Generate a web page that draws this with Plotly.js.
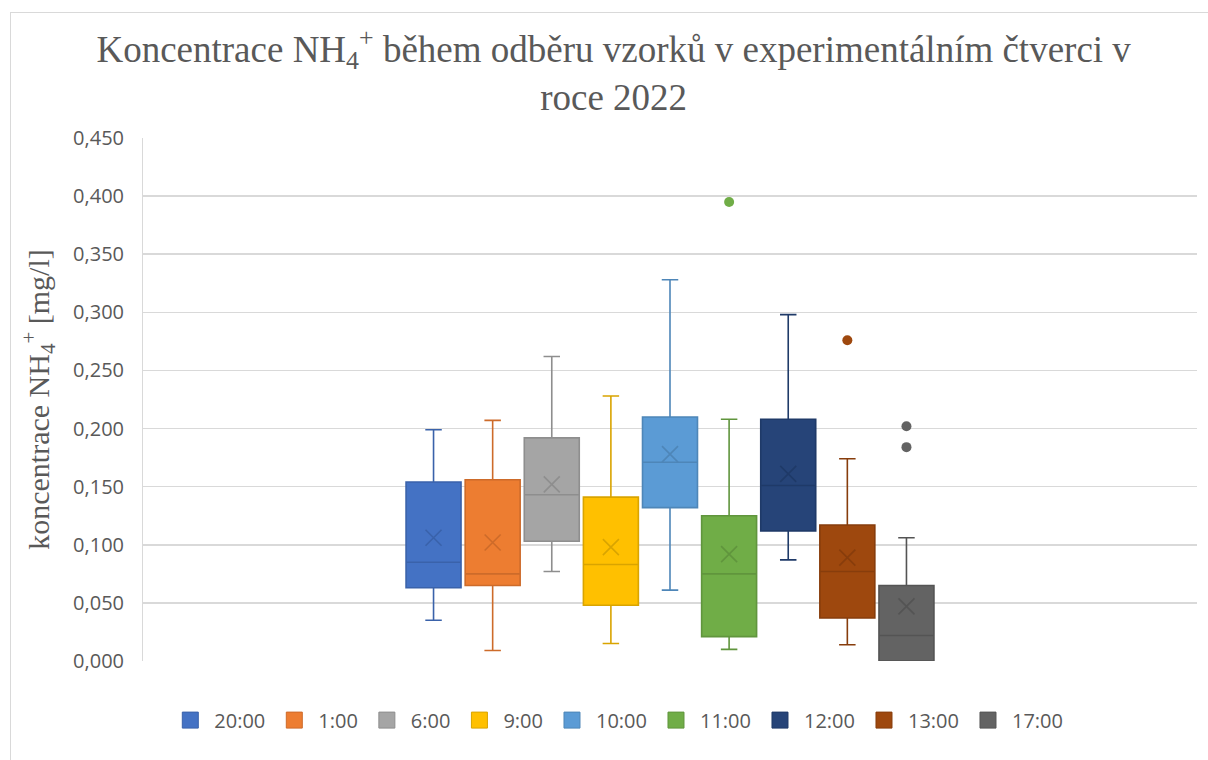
<!DOCTYPE html>
<html>
<head>
<meta charset="utf-8">
<script src="https://cdn.plot.ly/plotly-3.0.1.min.js"></script>
<style>
  html, body { margin: 0; padding: 0; background: #ffffff; }
  #chart { width: 1208px; height: 760px; }
  #frame { position: absolute; left: 10px; top: 12px; width: 1400px; height: 900px;
           border-left: 1px solid #d9d9d9; border-top: 1px solid #d9d9d9; pointer-events: none; z-index: 5; }
</style>
</head>
<body>
<div id="chart"></div>
<div id="frame"></div>
<script>
// ---- data ----
const categories   = ['20:00', '1:00', '6:00', '9:00', '10:00', '11:00', '12:00', '13:00', '17:00'];
const lowerWhisker = [0.035, 0.009, 0.077, 0.015, 0.061, 0.010, 0.087, 0.014, 0.000];
const q1Values     = [0.063, 0.065, 0.103, 0.048, 0.132, 0.021, 0.112, 0.037, 0.000];
const medianValues = [0.085, 0.075, 0.143, 0.083, 0.171, 0.075, 0.151, 0.077, 0.022];
const q3Values     = [0.154, 0.156, 0.192, 0.141, 0.210, 0.125, 0.208, 0.117, 0.065];
const upperWhisker = [0.199, 0.207, 0.262, 0.228, 0.328, 0.208, 0.298, 0.174, 0.106];
const meanValues   = [0.106, 0.102, 0.152, 0.098, 0.178, 0.092, 0.161, 0.089, 0.047];
const outlierCategories = ['11:00', '13:00', '17:00', '17:00'];
const outlierValues     = [0.395, 0.276, 0.202, 0.184];

// ---- styles ----
const fillColors = ['#4472C4', '#ED7D31', '#A5A5A5', '#FFC000', '#5B9BD5', '#70AD47', '#264478', '#9E480E', '#636363'];
const lineColors = ['#3A62AA', '#CD6B2A', '#8E8E8E', '#D9A400', '#4E86B8', '#60953D', '#1F3A68', '#873D0C', '#545454'];

const traces = categories.map((c, i) => ({
  type: 'box',
  name: c,
  legendgroup: c,
  showlegend: false,
  x: [c],
  q1: [q1Values[i]],
  median: [medianValues[i]],
  q3: [q3Values[i]],
  lowerfence: [lowerWhisker[i]],
  upperfence: [upperWhisker[i]],
  fillcolor: fillColors[i],
  line: { color: lineColors[i], width: 1.6 },
  whiskerwidth: 0.3,
  boxpoints: false,
  hoverinfo: 'skip'
}));

// legend entries (square swatches like the reference)
categories.forEach((c, i) => {
  traces.push({
    type: 'scatter',
    mode: 'markers',
    name: c,
    legendgroup: c,
    x: [null],
    y: [null],
    hoverinfo: 'skip',
    marker: { symbol: 'square', size: 16, color: fillColors[i], line: { color: lineColors[i], width: 1 } }
  });
});

traces.push({
  type: 'scatter',
  mode: 'markers',
  x: categories,
  y: meanValues,
  showlegend: false,
  hoverinfo: 'skip',
  marker: { symbol: 'x-thin-open', size: 16, color: lineColors, line: { color: lineColors, width: 1.6 } }
});

traces.push({
  type: 'scatter',
  mode: 'markers',
  x: outlierCategories,
  y: outlierValues,
  showlegend: false,
  hoverinfo: 'skip',
  marker: { symbol: 'circle', size: 10, color: outlierCategories.map(c => fillColors[categories.indexOf(c)]), line: { width: 0 } }
});

const layout = {
  width: 1208,
  height: 760,
  margin: { l: 143, r: 11, t: 138, b: 99 },
  paper_bgcolor: '#ffffff',
  plot_bgcolor: '#ffffff',
  separators: ', ',
  boxmode: 'overlay',
  boxgap: 0.07,
  boxgroupgap: 0,
  title: {
    text: 'Koncentrace NH<sub>4</sub><sup>+</sup> během odběru vzorků v experimentálním čtverci v<br>roce 2022',
    font: { family: 'Liberation Serif, serif', size: 37, color: '#595959' },
    x: 0.508,
    xanchor: 'center',
    y: 0.919,
    yanchor: 'top'
  },
  xaxis: {
    type: 'category',
    categoryorder: 'array',
    categoryarray: categories,
    range: [-4.915, 12.915],
    showticklabels: false,
    showgrid: false,
    zeroline: false,
    showline: false,
    fixedrange: true
  },
  yaxis: {
    range: [0, 0.45],
    tick0: 0,
    dtick: 0.05,
    tickformat: '.3f',
    showgrid: true,
    gridcolor: '#d9d9d9',
    gridwidth: 1.5,
    zeroline: false,
    showline: true,
    linecolor: '#d9d9d9',
    linewidth: 1,
    ticks: '',
    ticklabelstandoff: 14,
    tickfont: { family: 'Open Sans, sans-serif', size: 20, color: '#595959' },
    title: {
      text: 'koncentrace NH<sub>4</sub><sup>+</sup> [mg/l]',
      font: { family: 'Liberation Serif, serif', size: 30, color: '#595959' },
      standoff: 14
    },
    fixedrange: true
  },
  legend: {
    orientation: 'h',
    x: 0.45,
    xanchor: 'center',
    y: -0.113,
    yanchor: 'middle',
    itemwidth: 38,
    font: { family: 'Open Sans, sans-serif', size: 20, color: '#595959' },
    traceorder: 'normal'
  },
  showlegend: true
};

Plotly.newPlot('chart', traces, layout, { displayModeBar: false, staticPlot: true });
</script>
</body>
</html>
